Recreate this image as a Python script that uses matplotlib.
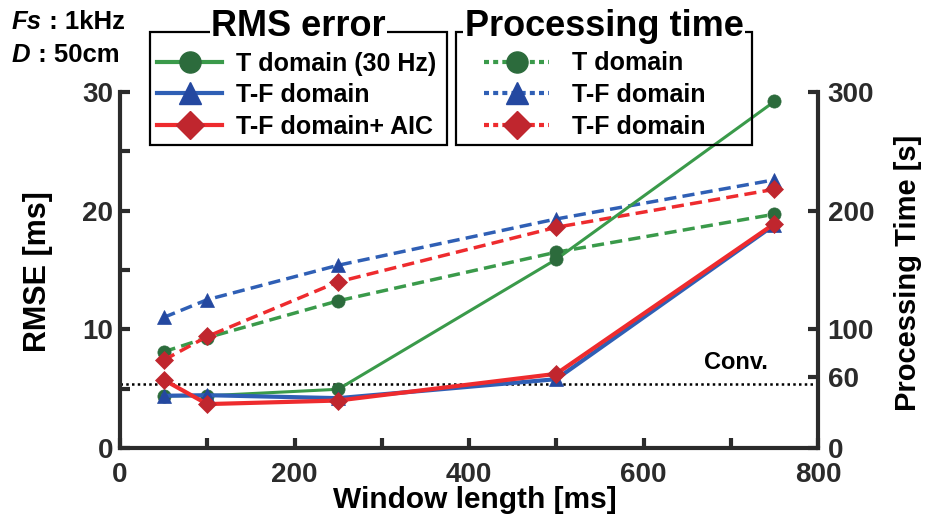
import matplotlib
matplotlib.use("Agg")
import matplotlib.pyplot as plt
from matplotlib.lines import Line2D
from matplotlib.patches import Rectangle

plt.rcParams["font.family"] = ["Liberation Sans", "DejaVu Sans"]
plt.rcParams["font.weight"] = "bold"

# window length [ms]
window = [50, 100, 250, 500, 750]

# RMS error [ms]
rmse_t = [4.4, 4.4, 4.95, 15.9, 29.2]
rmse_tf = [4.4, 4.45, 4.2, 5.8, 18.8]
rmse_tf_aic = [5.75, 3.7, 4.0, 6.25, 18.9]

# processing time [s]
time_t = [81, 93, 124, 165, 197]
time_tf = [110, 125, 154, 193, 226]
time_tf_aic = [74, 94, 140, 186, 218]

conv_level = 5.4  # RMSE of the conventional method [ms]

green, green_mk = "#3a9a4a", "#2c6b3c"
blue, blue_mk = "#2f5fb5", "#2448a0"
red, red_mk = "#ee2b2e", "#c0262e"
ink = "#2b2b2b"

W, H = 925, 516
fig = plt.figure(figsize=(W / 100, H / 100), dpi=100)
ax = fig.add_axes([120 / W, 1 - 448 / H, 698 / W, 356 / H])
ax2 = ax.twinx()

dash = (0, (3.5, 1.8))
ms = {"o": 9.5, "^": 10, "D": 9}

# processing time (dashed, right axis)
for ys, c, mc, m in [(time_t, green, green_mk, "o"), (time_tf, blue, blue_mk, "^"),
                     (time_tf_aic, red, red_mk, "D")]:
    ax2.plot(window, ys, color=c, lw=2.5, ls=dash, marker=m, ms=ms[m],
             mfc=mc, mec=mc, mew=0.5, zorder=3)

# RMS error (solid); drawn on the right axes so it sits above the dashed lines,
# scaled by 10 since 30 ms lines up with 300 s
for ys, c, mc, m, lw in [(rmse_t, green, green_mk, "o", 2.2), (rmse_tf, blue, blue_mk, "^", 3),
                         (rmse_tf_aic, red, red_mk, "D", 3)]:
    ax2.plot(window, [v * 10 for v in ys], color=c, lw=lw, marker=m, ms=ms[m],
             mfc=mc, mec=mc, mew=0.5, zorder=4)

ax.axhline(conv_level, color="black", lw=1.8, ls=(0, (1, 1.3)), zorder=2)
ax.text(706, 7.2, "Conv.", ha="center", va="center", fontsize=17, color="black")

ax.set_xlim(0, 800)
ax.set_ylim(0, 30)
ax2.set_ylim(0, 300)

ax.set_xticks(range(0, 801, 100))
ax.set_xticklabels([str(v) if v % 200 == 0 else "" for v in range(0, 801, 100)])
ax.set_yticks(range(0, 31, 5))
ax.set_yticklabels([str(v) if v % 10 == 0 else "" for v in range(0, 31, 5)])
ax2.set_yticks([0, 60, 100, 200, 300])

for a in (ax, ax2):
    a.tick_params(direction="in", length=7, width=3, labelsize=20, colors=ink)
    for s in a.spines.values():
        s.set_linewidth(3)
        s.set_color(ink)
    a.spines["top"].set_visible(False)
ax.tick_params(axis="x", pad=10)
ax.tick_params(axis="y", pad=5)
ax2.tick_params(axis="y", pad=7)
ax.spines["right"].set_visible(False)
ax2.spines["left"].set_visible(False)
ax2.spines["bottom"].set_visible(False)

fig.text(475 / W, 1 - 500 / H, "Window length [ms]", ha="center", va="center", fontsize=21.5)
fig.text(38 / W, 1 - 272 / H, "RMSE [ms]", rotation=90, ha="center", va="center", fontsize=22)
fig.text(908 / W, 1 - 273 / H, "Processing Time [s]", rotation=90, ha="center", va="center",
         fontsize=21)

# sampling rate / distance note
t1 = fig.text(12 / W, 1 - 29 / H, "Fs", style="italic", fontsize=18.5, va="baseline")
ax.annotate(" : 1kHz", xy=(1, 0), xycoords=t1, fontsize=18.5, va="bottom", ha="left",
            annotation_clip=False)
t2 = fig.text(12 / W, 1 - 62 / H, "D", style="italic", fontsize=18.5, va="baseline")
ax.annotate(" : 50cm", xy=(1, 0), xycoords=t2, fontsize=18.5, va="bottom", ha="left",
            annotation_clip=False)


def legend_box(x0, x1, title, handles, labels, hx, tpad):
    fig.patches.append(Rectangle((x0 / W, 1 - 145 / H), (x1 - x0) / W, 113 / H,
                                 transform=fig.transFigure, fill=False, ec="black",
                                 lw=1.6, zorder=5))
    leg = fig.legend(handles, labels, loc="center left", bbox_to_anchor=(hx / W, 1 - 95 / H),
                     frameon=False, fontsize=18, handlelength=2.6, handletextpad=tpad,
                     labelspacing=0.3, borderpad=0, borderaxespad=0)
    fig.text((x0 + x1) / 2 / W, 1 - 26 / H, title, ha="center", va="center", fontsize=26,
             bbox=dict(fc="white", ec="none", pad=1), zorder=6)
    return leg


def handle(c, mc, m, ls, lw=3):
    return Line2D([], [], color=c, lw=lw, ls=ls, marker=m, ms=ms[m] * 1.6, mfc=mc, mec=mc)


legend_box(150, 447, "RMS error",
           [handle(green, green_mk, "o", "-"), handle(blue, blue_mk, "^", "-"),
            handle(red, red_mk, "D", "-")],
           ["T domain (30 Hz)", "T-F domain", "T-F domain+ AIC"], 157, 0.55)
dot = (0, (1.2, 1.0))
legend_box(456, 752, "Processing time",
           [handle(green, green_mk, "o", dot), handle(blue, blue_mk, "^", dot),
            handle(red, red_mk, "D", dot)],
           ["T domain", "T-F domain", "T-F domain"], 484, 0.9)

fig.savefig("out.png", dpi=100)
